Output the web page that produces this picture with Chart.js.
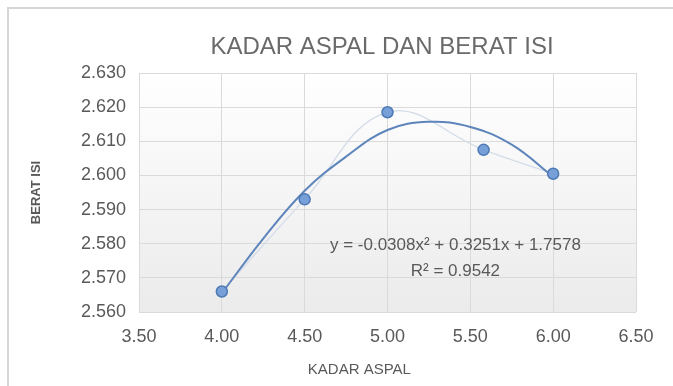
<!DOCTYPE html>
<html>
<head>
<meta charset="utf-8">
<script src="https://cdn.jsdelivr.net/npm/chart.js@4.4.1/dist/chart.umd.min.js"></script>
<style>
body{margin:0;background:#fff;}
canvas{display:block;}
</style>
</head>
<body>
<canvas id="chart" width="673" height="386"></canvas>
<script>
// data
const kadarAspal = [4.00, 4.50, 5.00, 5.58, 6.00];
const beratIsi = [2.566, 2.593, 2.6185, 2.6075, 2.6005];

// polynomial trendline, sampled from the drawn curve
const trendX = [4.00, 4.25, 4.50, 4.75, 5.00, 5.25, 5.50, 5.75, 6.00];
const trendY = [2.5655, 2.5815, 2.5955, 2.6055, 2.6133, 2.6157, 2.6142, 2.6090, 2.5996];

const xRange = [3.5, 6.5];
const yRange = [2.56, 2.63];

const chartTitle = "KADAR ASPAL DAN BERAT ISI";
const xTitle = "KADAR ASPAL";
const yTitle = "BERAT ISI";
const eqLines = ["y = -0.0308x\u00B2 + 0.3251x + 1.7578", "R\u00B2 = 0.9542"];

const pts = (xs, ys) => xs.map((x, i) => ({x: x, y: ys[i]}));

const grey = "#595959";
const sans = "'Liberation Sans', Arial, sans-serif";

const extras = {
  id: "extras",
  beforeDraw(chart){
    const c = chart.ctx, a = chart.chartArea;
    c.save();
    // frame of the screenshot
    c.strokeStyle = "#d6d6d6";
    c.lineWidth = 2;
    c.beginPath();
    c.moveTo(8, 386); c.lineTo(8, 8); c.lineTo(673, 8);
    c.stroke();
    // plot area gradient
    const g = c.createLinearGradient(0, a.top, 0, a.bottom);
    g.addColorStop(0, "#ffffff");
    g.addColorStop(1, "#ebebeb");
    c.fillStyle = g;
    c.fillRect(a.left, a.top, a.right - a.left, a.bottom - a.top);
    c.restore();
  },
  afterDraw(chart){
    const c = chart.ctx;
    const sx = chart.scales.x, sy = chart.scales.y;
    c.save();
    c.textAlign = "center";
    c.textBaseline = "middle";
    // chart title
    c.fillStyle = "#6a6a6a";
    c.font = "24px " + sans;
    c.fillText(chartTitle, 382, 47);
    // equation
    c.fillStyle = grey;
    c.font = "17px " + sans;
    c.fillText(eqLines[0], sx.getPixelForValue(5.41), sy.getPixelForValue(2.5796));
    c.fillText(eqLines[1], sx.getPixelForValue(5.41), sy.getPixelForValue(2.5720));
    // x axis title
    c.font = "15px " + sans;
    c.fillText(xTitle, sx.getPixelForValue(4.83), 370);
    c.restore();
  }
};

new Chart(document.getElementById("chart"), {
  type: "scatter",
  data: {
    datasets: [
      {
        label: "Berat Isi",
        data: pts(kadarAspal, beratIsi),
        showLine: false,
        pointRadius: 5.5,
        pointBackgroundColor: "#77a0d9",
        pointBorderColor: "#4d79b5",
        pointBorderWidth: 1.5
      },
      {
        label: "Poly. (Berat Isi)",
        data: pts(trendX, trendY),
        showLine: true,
        borderColor: "#5d85bb",
        borderWidth: 2,
        pointRadius: 0,
        tension: 0.4
      },
      {
        label: "Berat Isi line",
        data: pts(kadarAspal, beratIsi),
        showLine: true,
        borderColor: "#d3dce8",
        borderWidth: 1.3,
        pointRadius: 0,
        tension: 0.4
      }
    ]
  },
  options: {
    responsive: false,
    animation: false,
    layout: {padding: {left: 0, right: 37, top: 73, bottom: 0}},
    plugins: {
      legend: {display: false},
      tooltip: {enabled: false},
      title: {display: false}
    },
    scales: {
      x: {
        type: "linear",
        min: xRange[0],
        max: xRange[1],
        afterFit: s => { s.height = 74; },
        grid: {color: "#dadada", drawTicks: false},
        border: {display: false},
        ticks: {
          stepSize: 0.5,
          padding: 14,
          color: grey,
          font: {family: sans, size: 18},
          callback: v => v.toFixed(2)
        }
      },
      y: {
        min: yRange[0],
        max: yRange[1],
        afterFit: s => { s.width = 139; },
        grid: {color: "#dadada", drawTicks: false},
        border: {display: false},
        title: {
          display: true,
          text: yTitle,
          color: grey,
          font: {family: sans, size: 13, weight: "bold"},
          padding: {top: 29, bottom: 0}
        },
        ticks: {
          stepSize: 0.01,
          padding: 13,
          color: grey,
          font: {family: sans, size: 18},
          callback: v => v.toFixed(3)
        }
      }
    }
  },
  plugins: [extras]
});
</script>
</body>
</html>
